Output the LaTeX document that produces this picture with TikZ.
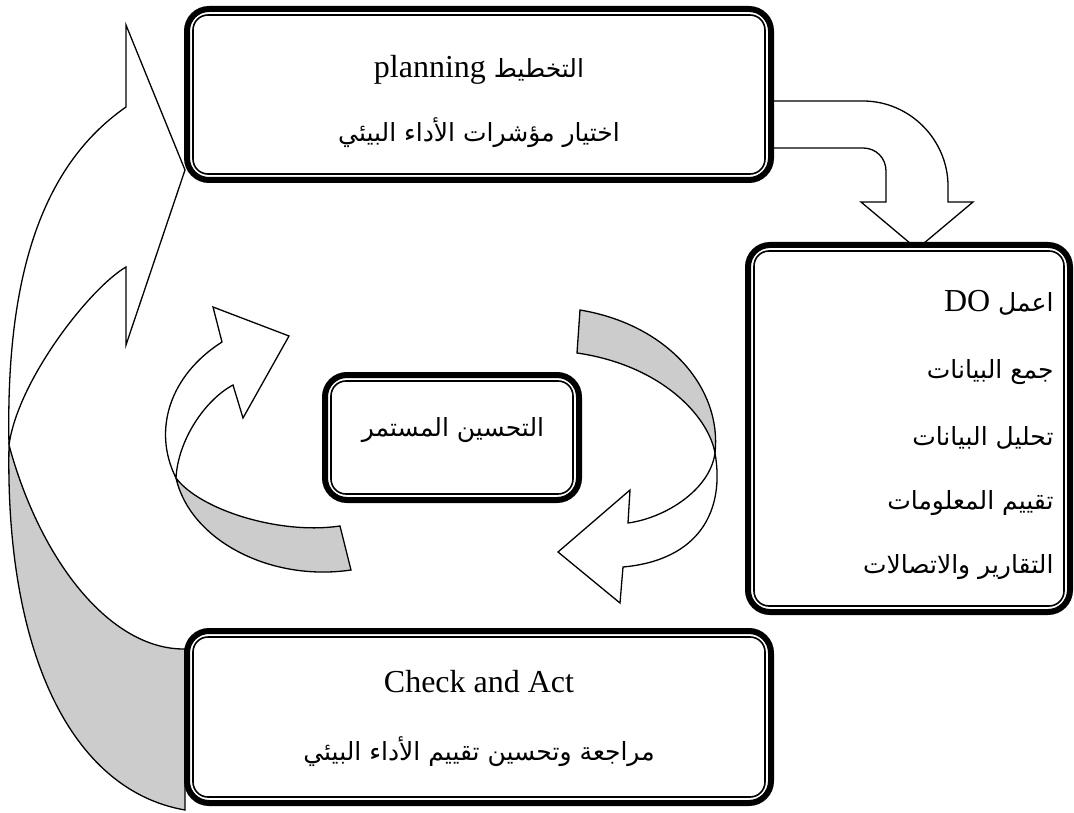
\documentclass[tikz,border=0pt]{standalone}
\usepackage{fontspec}
\setmainfont{Liberation Serif}
\newfontfamily\arabicfont[Script=Arabic]{DejaVu Sans}
\TeXXeTstate=1
\usetikzlibrary{positioning}
\definecolor{ribbongray}{HTML}{CCCCCC}
\newcommand{\artext}[1]{{\arabicfont\fontsize{25}{30}\selectfont\beginR #1\endR}}

\tikzset{
  ribbon/.style={draw, line width=1.3pt, fill=white},
  ribbonshade/.style={ribbon, fill=ribbongray},
  stagebox/.style={draw, line width=6pt, fill=white, rounded corners=22pt},
  innerline/.style={line width=1.6pt, rounded corners=15pt},
  latin/.style={font=\fontsize{32}{38}\selectfont}
}

\begin{document}
\begin{tikzpicture}[x=1pt, y=-1pt]
  \useasboundingbox (0,0) rectangle (1074,813);
  % big loop back to planning
  \draw [ribbonshade] (9,445) .. controls (5,650) and (70,790) .. (185,810) -- (185,649)
    .. controls (110,650) and (40,560) .. (9,445) -- cycle;
  \draw [ribbon] (9,445) .. controls (5,260) and (50,160) .. (126,107) -- (126,25) -- (185,170)
    -- (126,345) -- (126,267) .. controls (90,288) and (18,380) .. (9,445) -- cycle;
  % planning to do
  \draw [ribbon] (770,101) -- (863,101) .. controls (910,101) and (948,140) .. (948,186)
    -- (948,202) -- (973,202) -- (917,249) -- (861,202) -- (886,202) -- (886,171)
    .. controls (886,158) and (876,148) .. (863,148) -- (770,148) -- cycle;
  % small left arrow
  \draw [ribbonshade] (176,478) .. controls (200,510) and (280,535) .. (340,526) -- (351,570)
    .. controls (270,582) and (190,540) .. (176,478) -- cycle;
  \draw [ribbon] (176,478) .. controls (152,430) and (170,375) .. (222,342) -- (213,307) -- (289,336)
    -- (243,418) -- (233,385) .. controls (205,400) and (178,440) .. (176,478) -- cycle;
  % small right arrow
  \draw [ribbonshade] (580,310) .. controls (670,325) and (722,390) .. (715,453)
    .. controls (708,415) and (660,365) .. (577,353) -- cycle;
  \draw [ribbon] (715,453) .. controls (725,510) and (700,560) .. (623,567) -- (620,603) -- (558,552)
    -- (630,490) -- (628,523) .. controls (665,518) and (710,490) .. (715,453) -- cycle;

  \node [stagebox, minimum width=584pt, minimum height=171pt] (plan) at (479,94.5) {};
  \node [stagebox, minimum width=322pt, minimum height=367pt] (do) at (909,428.5) {};
  \node [stagebox, minimum width=254pt, minimum height=125pt] (cont) at (452,437.5) {};
  \node [stagebox, minimum width=584pt, minimum height=172pt] (check) at (479,717) {};
  \foreach \b in {plan,do,cont,check}
    \draw [innerline] ([shift={(9,9)}]\b.north west) rectangle ([shift={(-9,-9)}]\b.south east);

  \node [latin] (planA) at (479,70) {planning \artext{التخطيط}};
  \node (planB) at (479,133) {\artext{اختيار مؤشرات الأداء البيئي}};
  \node [latin, anchor=east] (doA) at (1057,303) {DO \artext{اعمل}};
  \node [anchor=east] (doB) at (1057,372) {\artext{جمع البيانات}};
  \node [anchor=east] (doC) at (1057,438) {\artext{تحليل البيانات}};
  \node [anchor=east] (doD) at (1057,503) {\artext{تقييم المعلومات}};
  \node [anchor=east] (doE) at (1057,567) {\artext{التقارير والاتصالات}};
  \node (contA) at (453,430) {\artext{التحسين المستمر}};
  \node [latin] (checkA) at (479,682) {Check and Act};
  \node (checkB) at (479,752) {\artext{مراجعة وتحسين تقييم الأداء البيئي}};
\end{tikzpicture}
\end{document}
